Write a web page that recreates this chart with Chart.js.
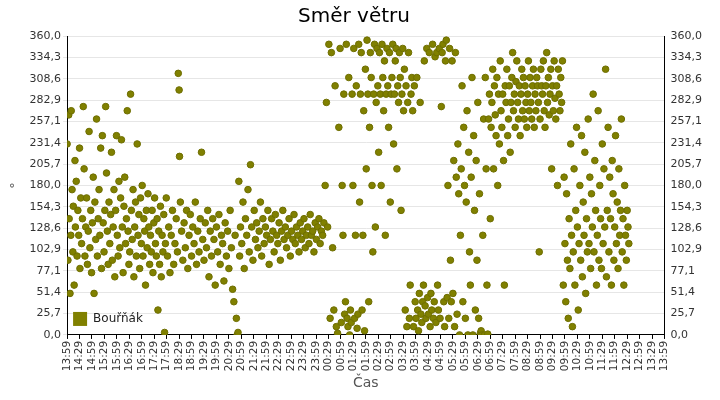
<!DOCTYPE html>
<html><head><meta charset="utf-8">
<script src="https://cdn.jsdelivr.net/npm/chart.js@4"></script>
<style>html,body{margin:0;padding:0;background:#fff}#w{width:720px;height:400px}</style>
</head><body><div id="w"><canvas id="c"></canvas></div>
<script>
const seriesName = "Bouřňák";
const yTickLabels = ["0,0","25,7","51,4","77,1","102,9","128,6","154,3","180,0","205,7","231,4","257,1","282,9","308,6","334,3","360,0"];
const xTickLabels = ["13:59","14:29","14:59","15:29","15:59","16:29","16:59","17:29","17:59","18:29","18:59","19:29","19:59","20:29","20:59","21:29","21:59","22:29","22:59","23:29","23:59","00:29","00:59","01:29","01:59","02:29","02:59","03:29","03:59","04:29","04:59","05:29","05:59","06:29","06:59","07:29","07:59","08:29","08:59","09:29","09:59","10:29","10:59","11:29","11:59","12:29","12:59","13:29","13:59"];
// minutes since 13:59
const minutes = [
0,2,4,5,7,9,10,12,14,15,17,19,20,22,24,26,28,30,31,33,35,37,39,41,43,45,47,49,51,53,55,57,59,61,63,65,67,69,71,73,75,77,79,81,83,85,87,89,91,93,95,97,99,101,103,105,107,109,111,113,115,117,119,121,123,125,127,129,131,133,135,137,139,141,143,145,147,149,151,153,155,157,159,161,163,165,167,169,171,173,175,177,179,181,183,185,187,189,191,193,195,197,199,201,203,205,207,209,211,213,215,217,219,221,223,225,227,229,231,233,235,237,239,
242,245,248,251,254,257,260,263,266,268,270,271,273,276,279,282,285,288,291,294,297,300,303,306,309,312,315,318,321,324,327,330,333,336,339,342,345,348,351,354,357,360,363,366,369,372,375,378,381,384,387,390,393,396,399,402,405,408,410,412,414,416,418,
421,424,427,430,433,436,439,442,445,448,451,454,457,460,463,466,469,472,475,478,481,484,487,490,493,496,499,502,505,508,511,514,517,520,523,526,529,532,535,538,541,544,547,550,553,556,559,562,565,568,571,574,577,580,583,586,589,592,595,598,601,604,607,610,613,616,619,622,625,628,631,634,637,640,643,646,649,652,655,658,
661,663,665,667,669,671,673,675,677,679,681,683,685,687,689,691,693,695,697,699,701,703,705,707,709,711,713,715,717,719,721,723,725,727,729,731,733,735,737,739,741,743,745,747,749,751,753,755,757,759,761,763,765,767,769,771,773,775,777,779,781,783,785,787,789,791,793,795,797,799,801,803,805,807,809,811,813,815,817,819,821,823,825,827,829,831,833,835,837,839,841,843,845,847,849,851,853,855,857,859,861,863,865,867,869,871,873,875,877,879,881,883,885,887,889,891,893,895,897,899,
902,904,906,908,910,912,914,916,918,920,922,924,926,928,930,932,934,936,938,940,942,944,946,948,950,952,954,956,958,960,962,964,966,968,970,972,974,976,978,980,982,984,986,988,990,992,994,996,998,1000,1002,1004,1006,1008,1010,1012,1014,1016,1018,1020,1022,1024,1026,1028,1030,1032,1034,1036,1038,1040,1042,1044,1046,1048,1050,1052,1054,1056,1058,1060,1062,1064,1066,1068,1070,1072,1074,1076,1078,1080,
1082,1084,1086,1088,1090,1092,1094,1096,1098,1100,1102,1104,1106,1108,1110,1112,1114,1116,1118,1120,1122,1124,1126,1128,1130,1132,1134,1136,1138,1140,1142,1144,1146,1148,1150,1152,1154,1156,1158,1160,1162,1164,1166,1168,1170,1172,1174,1176,1178,1180,1182,1184,1186,1188,1190,1192,1194,1196,1198,1200,1202,1204,1206,1208,1210,1212,1214,1216,1218,1220,1222,1224,1226,1228,1230,1232,1234,1236,1238,1240,1242,1244,1246,1248,1250,1252,1254,1256,1258,1260,
1262,1264,1266,1268,1270,1272,1274,1276,1278,1280,1282,1284,1286,1288,1290,1292,1294,1296,1298,1300,1302,1304,1306,1308,1310,1312,1314,1316,1318,1320,1322,1324,1326,1328,1330,1332,1334,1336,1338,1340,1342,1344,1346,1348,1350,1352,1354,1356,1358,1360,1362,1364,1366,1368,1370,1372,1374,1376,1378,1380,1382,1384,1386,1388,1390,1392,1394,1396,1398,1400,1402,1404,1406,1408,1410,1412,1414,1416,1418,1420,1422,1424,1426,1428,1430,1432,1434,1436,1438,1440
];
const degrees = [
230,90,265,140,50,120,270,175,100,155,60,210,130,185,95,150,120,225,80,165,110,140,275,200,95,130,165,85,125,245,105,150,75,135,190,50,160,115,260,95,140,175,120,225,80,240,135,100,150,275,195,125,85,160,110,145,220,90,130,175,70,150,240,120,95,185,105,165,235,130,75,155,190,110,140,270,125,85,100,290,150,115,175,70,130,160,95,230,120,145,80,165,110,180,95,140,125,60,150,105,170,130,85,120,100,150,75,135,165,110,95,140,30,125,85,155,70,120,100,145,3,110,165,
95,130,75,120,150,85,110,140,100,315,295,215,160,125,90,135,105,150,80,120,145,95,130,110,160,85,125,100,140,220,115,90,135,105,150,70,125,95,140,115,60,130,100,145,85,120,110,65,135,95,125,80,150,105,55,40,120,20,0,3,
185,95,130,110,160,80,140,120,175,100,205,130,90,150,115,135,105,125,160,95,140,110,130,120,150,85,115,140,125,100,145,120,110,135,90,125,150,115,130,105,120,140,95,125,115,145,110,130,120,100,135,115,125,140,105,120,130,110,145,120,125,100,135,115,130,140,110,125,120,135,
180,280,130,350,20,340,105,30,300,10,2,250,345,15,180,120,290,25,40,350,20,10,310,0,30,15,290,180,345,20,120,300,8,25,350,160,290,340,30,120,270,5,320,200,355,290,40,250,340,310,180,100,290,350,130,280,345,300,220,340,290,180,350,310,270,330,120,290,345,300,250,340,160,290,310,350,230,290,330,345,200,300,280,340,310,150,290,345,270,320,30,300,10,280,340,20,60,290,310,270,
10,300,40,20,310,30,5,50,280,25,15,40,60,330,35,20,345,45,25,340,10,50,30,350,20,40,335,15,340,60,30,345,20,275,340,350,40,10,330,355,45,180,20,345,90,40,330,50,210,10,340,190,25,230,170,0,120,200,300,40,250,180,20,160,270,0,220,100,60,190,310,0,240,150,30,210,90,280,20,170,2,5,0,120,260,0,310,200,60,1,
260,290,140,250,280,320,200,300,265,240,310,180,290,230,330,270,250,290,210,60,300,280,320,240,260,300,220,280,310,340,270,290,250,305,330,280,260,300,240,290,320,270,310,260,300,280,250,290,330,270,310,280,260,300,320,250,290,270,310,300,280,100,260,320,300,290,330,270,250,300,340,280,310,265,290,320,200,300,270,330,285,260,300,180,320,290,270,310,280,330,
60,190,110,40,170,90,20,140,80,230,120,10,100,200,60,150,250,130,30,110,180,90,240,70,160,120,220,50,140,100,260,110,190,80,170,130,290,100,210,150,60,120,270,90,180,140,80,230,110,200,130,320,70,150,250,100,190,140,60,210,170,90,130,240,110,160,80,200,120,150,260,100,140,60,180,120,90,150,130,110
];
const points = minutes.map((m,i)=>({x:m,y:degrees[i]}));
const tickVals = yTickLabels.map(s=>parseFloat(s.replace(',','.')));
const legendPlugin = {id:'lg',afterDraw(ch){const a=ch.chartArea,c=ch.ctx;c.save();c.fillStyle='#808000';c.fillRect(a.left+6,a.bottom-23,14,14);c.fillStyle='#222';c.font='12px "DejaVu Sans"';c.textBaseline='middle';c.fillText(seriesName,a.left+26,a.bottom-16);c.restore();}};
function yScale(pos){return {position:pos,min:0,max:360,afterBuildTicks(s){s.ticks=tickVals.map(v=>({value:v}));},
 grid:{display:pos==='left',color:'#e6e6e6',drawTicks:true,tickLength:4},border:{color:'#000'},
 ticks:{color:'#333',font:{size:11,family:'DejaVu Sans'},padding:2,callback:(v,i)=>yTickLabels[i]},
 title:{display:pos==='left',text:'°',color:'#555',font:{size:13,family:'DejaVu Sans'}}};}
new Chart(document.getElementById('c'),{type:'scatter',
 data:{datasets:[{label:seriesName,data:points,backgroundColor:'#808000',borderColor:'#6e6e00',borderWidth:1,pointRadius:3.3,pointHoverRadius:3.3}]},
 options:{responsive:true,maintainAspectRatio:false,animation:false,layout:{padding:{top:0,right:16,left:4,bottom:4}},
  plugins:{legend:{display:false},tooltip:{enabled:false},title:{display:true,text:'Směr větru',color:'#000',font:{size:20,family:'DejaVu Sans',weight:'normal'},padding:{top:5,bottom:7}}},
  scales:{
   x:{type:'linear',min:0,max:1440,afterBuildTicks(s){s.ticks=xTickLabels.map((l,i)=>({value:i*30}));},
    grid:{display:true,drawOnChartArea:false,tickLength:4,color:'#000'},border:{color:'#000'},
    ticks:{color:'#333',font:{size:10.5,family:'DejaVu Sans'},maxRotation:90,minRotation:90,autoSkip:false,padding:2,callback:(v,i)=>xTickLabels[i]},
    title:{display:true,text:'Čas',color:'#555',font:{size:14,family:'DejaVu Sans'},padding:{top:2}}},
   y:yScale('left'),
   y2:yScale('right')
  }}, plugins:[legendPlugin]});
</script></body></html>
